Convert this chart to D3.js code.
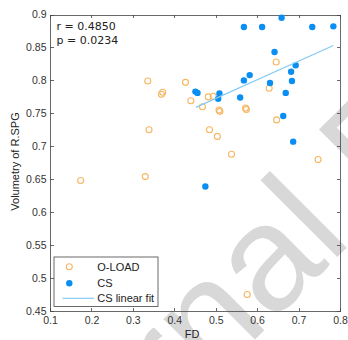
<!DOCTYPE html>
<html lang="en">
<head>
<meta charset="UTF-8">
<title>Volumetry of R.SPG vs FD</title>
<script src="https://d3js.org/d3.v7.min.js"></script>
<style type="text/css">
body { margin: 0; background: #fff; }
.axis path, .axis line { fill: none; stroke: #444; stroke-width: 0.8px; shape-rendering: crispEdges; }
.axis text { font-family: "Liberation Sans", Arial, sans-serif; font-size: 10.5px; fill: #333; }
.lab { font-family: "Liberation Sans", Arial, sans-serif; font-size: 11px; fill: #222; }
.stat { font-family: "DejaVu Sans", sans-serif; font-size: 11px; fill: #222; }
</style>
</head>
<body>
<div id="chart"></div>
<script>
// O-LOAD group (hollow orange)
var oloadFD  = [0.336,0.427,0.372,0.369,0.440,0.468,0.482,0.494,0.508,0.510,0.572,0.574,0.646,0.629,0.647,0.339,0.485,0.504,0.538,0.747,0.174,0.330,0.576];
var oloadVol = [0.799,0.797,0.782,0.779,0.769,0.760,0.775,0.776,0.755,0.753,0.758,0.756,0.828,0.788,0.740,0.725,0.725,0.715,0.688,0.680,0.648,0.654,0.475];
// CS group (filled blue)
var csFD  = [0.568,0.612,0.659,0.733,0.784,0.642,0.693,0.682,0.684,0.669,0.631,0.582,0.568,0.559,0.451,0.456,0.509,0.506,0.663,0.687,0.475];
var csVol = [0.881,0.881,0.895,0.881,0.882,0.843,0.823,0.813,0.799,0.781,0.796,0.808,0.800,0.774,0.783,0.781,0.780,0.772,0.746,0.707,0.639];
// CS linear fit end points
var fitFD  = [0.452,0.784];
var fitVol = [0.759,0.853];

var xTicks = [0.1,0.2,0.3,0.4,0.5,0.6,0.7,0.8];
var yTicks = [0.45,0.5,0.55,0.6,0.65,0.7,0.75,0.8,0.85,0.9];
var statLines = ["r = 0.4850","p = 0.0234"];
var legendNames = ["O-LOAD","CS","CS linear fit"];

var width = 348, height = 340;
var orange = "#f6b661", blue = "#0a8ef2", fitColor = "#86cbf3";

var svg = d3.select("#chart").append("svg")
    .attr("width", width)
    .attr("height", height);

var x = d3.scaleLinear().domain([0.1,0.8]).range([50,340]);
var y = d3.scaleLinear().domain([0.45,0.9]).range([311,14.5]);
var fmt = d3.format("~g");

// watermark (under the axis titles)
svg.append("text")
    .attr("transform","translate(6,588.6) rotate(-45)")
    .style("font-family","'Liberation Sans', Arial, sans-serif")
    .style("font-size","150px")
    .attr("fill","#d2d2d2")
    .attr("opacity",0.85)
    .text("Journal Pre-proof");

// frame with inward ticks on all sides
svg.append("g").attr("class","axis")
    .attr("transform","translate(0,"+y(0.45)+")")
    .call(d3.axisBottom(x).tickValues(xTicks).tickFormat(fmt).tickSizeInner(-3.5).tickSizeOuter(0).tickPadding(5.5));
svg.append("g").attr("class","axis")
    .attr("transform","translate(0,"+y(0.9)+")")
    .call(d3.axisTop(x).tickValues(xTicks).tickFormat("").tickSizeInner(-3.5).tickSizeOuter(0));
svg.append("g").attr("class","axis")
    .attr("transform","translate("+x(0.1)+",0)")
    .call(d3.axisLeft(y).tickValues(yTicks).tickFormat(fmt).tickSizeInner(-3.5).tickSizeOuter(0).tickPadding(3.5));
svg.append("g").attr("class","axis")
    .attr("transform","translate("+x(0.8)+",0)")
    .call(d3.axisRight(y).tickValues(yTicks).tickFormat("").tickSizeInner(-3.5).tickSizeOuter(0));

// points
svg.selectAll("circle.oload")
    .data(d3.range(oloadFD.length))
    .enter().append("circle")
    .attr("class","oload")
    .attr("cx", function(i){ return x(oloadFD[i]); })
    .attr("cy", function(i){ return y(oloadVol[i]); })
    .attr("r", 3)
    .attr("fill","none")
    .attr("stroke", orange)
    .attr("stroke-width", 1.1);

svg.selectAll("circle.cs")
    .data(d3.range(csFD.length))
    .enter().append("circle")
    .attr("class","cs")
    .attr("cx", function(i){ return x(csFD[i]); })
    .attr("cy", function(i){ return y(csVol[i]); })
    .attr("r", 3.2)
    .attr("fill", blue);

var line = d3.line()
    .x(function(i){ return x(fitFD[i]); })
    .y(function(i){ return y(fitVol[i]); });
svg.append("path")
    .attr("d", line(d3.range(fitFD.length)))
    .attr("fill","none")
    .attr("stroke", fitColor)
    .attr("stroke-width", 1.2);

// r / p text
svg.selectAll("text.stat")
    .data(statLines)
    .enter().append("text")
    .attr("class","stat")
    .attr("x", 56.5)
    .attr("y", function(d,i){ return 29.5 + i*14.3; })
    .text(function(d){ return d; });

// legend
var lg = svg.append("g");
lg.append("rect")
    .attr("x",54).attr("y",257).attr("width",104).attr("height",49.5)
    .attr("fill","#fff").attr("stroke","#444").attr("stroke-width",0.8);
var rowY = [266.7, 283.3, 298.3];
lg.append("circle").attr("cx",69.3).attr("cy",rowY[0]).attr("r",3)
    .attr("fill","none").attr("stroke",orange).attr("stroke-width",1.1);
lg.append("circle").attr("cx",69.3).attr("cy",rowY[1]).attr("r",3.2).attr("fill",blue);
lg.append("line").attr("x1",62.5).attr("x2",94).attr("y1",rowY[2]).attr("y2",rowY[2])
    .attr("stroke",fitColor).attr("stroke-width",1.2);
lg.selectAll("text")
    .data(legendNames)
    .enter().append("text")
    .attr("class","lab")
    .attr("x", 97.3)
    .attr("y", function(d,i){ return rowY[i] + 4; })
    .text(function(d){ return d; });

// axis titles
svg.append("text").attr("class","lab")
    .attr("x",192).attr("y",337.5)
    .attr("text-anchor","middle")
    .text("FD");
svg.append("text").attr("class","lab")
    .attr("transform","translate(19,"+(161.5)+") rotate(-90)")
    .attr("text-anchor","middle")
    .text("Volumetry of R.SPG");
</script>
</body>
</html>
